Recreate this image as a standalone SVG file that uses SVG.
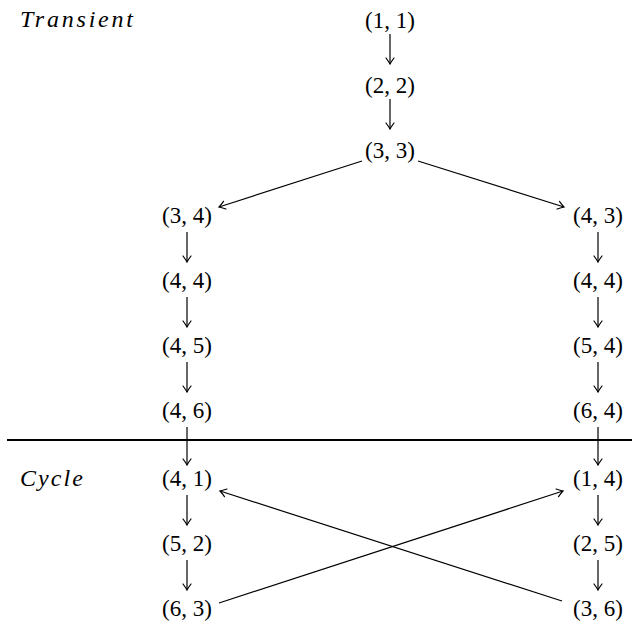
<svg xmlns="http://www.w3.org/2000/svg" width="632" height="630" viewBox="0 0 632 630">
<style>
text{font-family:"Liberation Serif","DejaVu Serif",serif;font-size:23px;fill:#000;text-anchor:middle}
.lab{font-style:italic;text-anchor:start;font-size:24px}
.c{stroke:#000;stroke-width:1.2;fill:none;marker-end:url(#ah)}
</style>
<defs>
<marker id="ah" viewBox="-8 -5 10 10" refX="0" refY="0" markerWidth="10" markerHeight="10" markerUnits="userSpaceOnUse" orient="auto">
<path d="M-6,-4 Q-2,-1 0,0 Q-2,1 -6,4" fill="none" stroke="#000" stroke-width="1.2" stroke-linecap="round"/>
</marker>
</defs>
<rect width="632" height="630" fill="#fff"/>
<text class="lab" x="20" y="27" textLength="113" lengthAdjust="spacing">Transient</text>
<text class="lab" x="20" y="486" textLength="63" lengthAdjust="spacing">Cycle</text>
<line x1="7" y1="440" x2="632" y2="440" stroke="#000" stroke-width="2"/>
<g id="n11"><text x="390" y="28">(1, 1)</text></g>
<g id="n22"><text x="390" y="93">(2, 2)</text></g>
<g id="n33"><text x="390" y="158">(3, 3)</text></g>
<g id="n34"><text x="187" y="223">(3, 4)</text></g>
<g id="n44a"><text x="187" y="288">(4, 4)</text></g>
<g id="n45"><text x="187" y="353">(4, 5)</text></g>
<g id="n46"><text x="187" y="418">(4, 6)</text></g>
<g id="n41"><text x="187" y="486">(4, 1)</text></g>
<g id="n52"><text x="187" y="551">(5, 2)</text></g>
<g id="n63"><text x="187" y="616">(6, 3)</text></g>
<g id="n43"><text x="598" y="223">(4, 3)</text></g>
<g id="n44b"><text x="598" y="288">(4, 4)</text></g>
<g id="n54"><text x="598" y="353">(5, 4)</text></g>
<g id="n64"><text x="598" y="418">(6, 4)</text></g>
<g id="n14"><text x="598" y="486">(1, 4)</text></g>
<g id="n25"><text x="598" y="551">(2, 5)</text></g>
<g id="n36"><text x="598" y="616">(3, 6)</text></g>
<g id="connectors">
<line class="c" x1="390" y1="34" x2="390" y2="64"/>
<line class="c" x1="390" y1="99" x2="390" y2="129"/>
<line class="c" x1="362" y1="161" x2="219" y2="207"/>
<line class="c" x1="418" y1="161" x2="564" y2="207"/>
<line class="c" x1="187" y1="232" x2="187" y2="262"/>
<line class="c" x1="187" y1="297" x2="187" y2="327"/>
<line class="c" x1="187" y1="362" x2="187" y2="392"/>
<line class="c" x1="187" y1="427" x2="187" y2="465"/>
<line class="c" x1="187" y1="495" x2="187" y2="525"/>
<line class="c" x1="187" y1="560" x2="187" y2="590"/>
<line class="c" x1="598" y1="232" x2="598" y2="262"/>
<line class="c" x1="598" y1="297" x2="598" y2="327"/>
<line class="c" x1="598" y1="362" x2="598" y2="392"/>
<line class="c" x1="598" y1="427" x2="598" y2="465"/>
<line class="c" x1="598" y1="495" x2="598" y2="525"/>
<line class="c" x1="598" y1="560" x2="598" y2="590"/>
<line class="c" x1="562" y1="601" x2="220" y2="491"/>
<line class="c" x1="219" y1="603" x2="563" y2="491"/>
</g>
</svg>
